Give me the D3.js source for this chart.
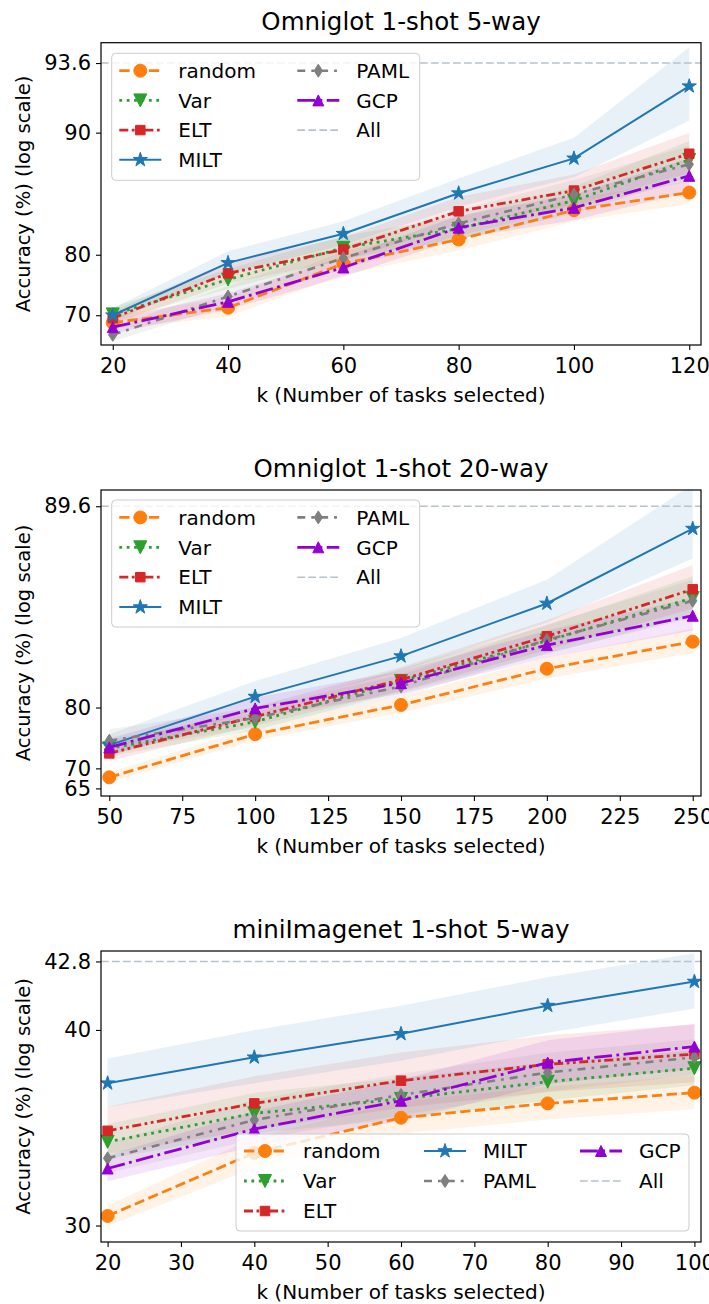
<!DOCTYPE html>
<html>
<head>
<meta charset="utf-8">
<script src="https://cdn.jsdelivr.net/npm/d3@7"></script>
<style>
  body { margin: 0; background: #fff; }
  svg { display: block; font-family: "DejaVu Sans", sans-serif; }
</style>
</head>
<body>
<svg id="fig" width="709" height="1304"></svg>
<script>
var methods = ["random", "Var", "ELT", "MILT", "PAML", "GCP"];

/* ===== DATA: Omniglot 1-shot 5-way ===== */
var o5K      = [20, 40, 60, 80, 100, 120];
var o5Random = [68.1, 71.7, 78.9, 81.7, 84.5, 85.95];
var o5Var    = [70.2, 76.7, 80.8, 82.8, 85.3, 88.3];
var o5ELT    = [69.3, 77.6, 80.6, 84.4, 86.1, 88.7];
var o5MILT   = [70.0, 79.0, 82.3, 85.9, 88.4, 92.5];
var o5PAML   = [64.3, 73.9, 79.6, 83.3, 85.8, 88.0];
var o5GCP    = [66.8, 72.9, 78.4, 82.9, 84.7, 87.2];
var o5RandomSd = [1.8, 2.0, 1.5, 1.2, 1.0, 0.9];
var o5VarSd    = [1.6, 1.5, 1.3, 1.1, 1.1, 1.2];
var o5ELTSd    = [1.6, 1.5, 1.3, 1.2, 1.2, 1.3];
var o5MILTSd   = [1.6, 1.4, 1.2, 1.1, 1.3, 1.8];
var o5PAMLSd   = [2.5, 1.8, 1.4, 1.2, 1.1, 1.2];
var o5GCPSd    = [2.0, 1.6, 1.3, 1.1, 1.1, 1.2];
var o5All = 93.6;
var o5YTicks = [70, 80, 90, 93.6];
var o5XTicks = [20, 40, 60, 80, 100, 120];

/* ===== DATA: Omniglot 1-shot 20-way ===== */
var o20K      = [50, 100, 150, 200, 250];
var o20Random = [67.9, 76.4, 80.3, 83.7, 85.5];
var o20Var    = [74.05, 78.2, 82.7, 85.55, 87.5];
var o20ELT    = [73.1, 78.9, 82.8, 85.8, 87.8];
var o20MILT   = [74.6, 81.2, 84.6, 87.3, 89.26];
var o20PAML   = [75.35, 78.7, 82.2, 85.6, 87.4];
var o20GCP    = [74.2, 79.9, 82.5, 85.3, 86.8];
var o20RandomSd = [1.2, 1.0, 0.9, 0.8, 0.7];
var o20VarSd    = [1.5, 1.2, 1.0, 0.8, 0.7];
var o20ELTSd    = [1.5, 1.2, 1.0, 0.8, 0.7];
var o20MILTSd   = [1.8, 1.5, 1.1, 0.8, 0.6];
var o20PAMLSd   = [1.8, 1.3, 1.0, 0.8, 0.7];
var o20GCPSd    = [1.5, 1.2, 1.0, 0.8, 0.7];
var o20All = 89.6;
var o20YTicks = [65, 70, 80, 89.6];
var o20XTicks = [50, 75, 100, 125, 150, 175, 200, 225, 250];

/* ===== DATA: miniImagenet 1-shot 5-way ===== */
var miK      = [20, 40, 60, 80, 100];
var miRandom = [30.57, 34.1, 35.91, 36.62, 37.14];
var miVar    = [34.68, 36.13, 36.84, 37.66, 38.29];
var miELT    = [35.25, 36.62, 37.71, 38.47, 38.93];
var miMILT   = [37.59, 38.79, 39.83, 41.03, 42.01];
var miPAML   = [33.81, 35.8, 37.03, 38.09, 38.79];
var miGCP    = [33.26, 35.34, 36.75, 38.55, 39.27];
var miRandomSd = [0.6, 0.8, 0.8, 0.8, 0.8];
var miVarSd    = [0.9, 1.0, 1.0, 0.9, 0.8];
var miELTSd    = [1.2, 1.3, 1.3, 1.3, 1.3];
var miMILTSd   = [1.15, 1.2, 1.2, 1.15, 1.1];
var miPAMLSd   = [0.8, 1.0, 1.0, 0.9, 0.8];
var miGCPSd    = [0.7, 0.9, 1.0, 1.0, 1.0];
var miAll = 42.8;
var miYTicks = [30, 40, 42.8];
var miXTicks = [20, 30, 40, 50, 60, 70, 80, 90, 100];

/* ===== STYLES ===== */
var styles = {
  random: {color: "#ff7f0e", dash: "10.3,4.5",               width: 2.8, marker: "circle",  ms: 13},
  Var:    {color: "#2ca02c", dash: "2.8,4.6",                width: 2.8, marker: "triDown", ms: 13},
  ELT:    {color: "#d62728", dash: "9,3.5,2.8,3.5,2.8,3.5",  width: 2.8, marker: "square",  ms: 9.5},
  MILT:   {color: "#1f77b4", dash: null,                     width: 2.0, marker: "star",    ms: 15},
  PAML:   {color: "#7f7f7f", dash: "8,6,2.8,6",              width: 2.6, marker: "diamond", ms: 13},
  GCP:    {color: "#9400d3", dash: "17.8,4.4,2.8,4.4",       width: 2.8, marker: "triUp",   ms: 11}
};
var allStyle = {color: "#b8c2cc", dash: "7.7,3.3", width: 1.6};

var markerTypes = {
  circle: {draw: function(c, s) { c.moveTo(s / 2, 0); c.arc(0, 0, s / 2, 0, 2 * Math.PI); }},
  triDown: {draw: function(c, s) { var h = s / 2; c.moveTo(0, h); c.lineTo(-h, -h); c.lineTo(h, -h); c.closePath(); }},
  triUp: {draw: function(c, s) { var h = s / 2; c.moveTo(0, -h); c.lineTo(-h, h); c.lineTo(h, h); c.closePath(); }},
  square: {draw: function(c, s) { c.rect(-s / 2, -s / 2, s, s); }},
  diamond: {draw: function(c, s) { var h = s / 2, w = s * 0.32; c.moveTo(0, -h); c.lineTo(w, 0); c.lineTo(0, h); c.lineTo(-w, 0); c.closePath(); }},
  star: {draw: function(c, s) {
    var R = s / 2, r = R * 0.382;
    for (var i = 0; i < 10; i++) {
      var a = -Math.PI / 2 + i * Math.PI / 5, rad = i % 2 ? r : R;
      if (i === 0) c.moveTo(rad * Math.cos(a), rad * Math.sin(a));
      else c.lineTo(rad * Math.cos(a), rad * Math.sin(a));
    }
    c.closePath();
  }}
};

var plotL = 101, plotR = 701;

/* ===== PANELS ===== */
var panels = [
  {
    id: 1, title: "Omniglot 1-shot 5-way", top: 42.7, bottom: 345,
    k: o5K, xlim: [17.96, 122.04], xTicks: o5XTicks,
    tf: function(v) { return Math.exp(v / 14.24); }, ylim: [60.1, 94.5], yTicks: o5YTicks,
    all: o5All,
    mean: {random: o5Random, Var: o5Var, ELT: o5ELT, MILT: o5MILT, PAML: o5PAML, GCP: o5GCP},
    std: {random: o5RandomSd, Var: o5VarSd, ELT: o5ELTSd, MILT: o5MILTSd, PAML: o5PAMLSd, GCP: o5GCPSd},
    legend: {x: 111.7, y: 53.3, w: 308, h: 127, firstRow: 17.4, rowStep: 29.7,
             colX: [7.6, 185.6], cols: [["random", "Var", "ELT", "MILT"], ["PAML", "GCP", "All"]]}
  },
  {
    id: 2, title: "Omniglot 1-shot 20-way", top: 490, bottom: 796,
    k: o20K, xlim: [47.16, 252.84], xTicks: o20XTicks,
    tf: function(v) { return -Math.log(90.85 - v); }, ylim: [62.8, 89.8], yTicks: o20YTicks,
    all: o20All,
    mean: {random: o20Random, Var: o20Var, ELT: o20ELT, MILT: o20MILT, PAML: o20PAML, GCP: o20GCP},
    std: {random: o20RandomSd, Var: o20VarSd, ELT: o20ELTSd, MILT: o20MILTSd, PAML: o20PAMLSd, GCP: o20GCPSd},
    legend: {x: 111.7, y: 500, w: 308, h: 127, firstRow: 17.4, rowStep: 29.9,
             colX: [7.6, 185.6], cols: [["random", "Var", "ELT", "MILT"], ["PAML", "GCP", "All"]]}
  },
  {
    id: 3, title: "miniImagenet 1-shot 5-way", top: 951, bottom: 1242,
    k: miK, xlim: [19.1, 100.9], xTicks: miXTicks,
    tf: function(v) { return -Math.log(66 - v); }, ylim: [29.0, 43.2], yTicks: miYTicks,
    all: miAll,
    mean: {random: miRandom, Var: miVar, ELT: miELT, MILT: miMILT, PAML: miPAML, GCP: miGCP},
    std: {random: miRandomSd, Var: miVarSd, ELT: miELTSd, MILT: miMILTSd, PAML: miPAMLSd, GCP: miGCPSd},
    legend: {x: 236, y: 1134, w: 453, h: 97, firstRow: 17, rowStep: 30,
             colX: [8, 188, 344], cols: [["random", "Var", "ELT"], ["MILT", "PAML"], ["GCP", "All"]]}
  }
];

var svg = d3.select("#fig");
panels.forEach(drawPanel);

function drawPanel(p) {
  var g = svg.append("g");

  var x = d3.scaleLinear().domain(p.xlim).range([plotL, plotR]);
  var yLin = d3.scaleLinear().domain(p.ylim.map(p.tf)).range([p.bottom, p.top]);
  var y = function(v) { return yLin(p.tf(v)); };

  var clipId = "clip" + p.id;
  g.append("clipPath").attr("id", clipId)
    .append("rect")
    .attr("x", plotL).attr("y", p.top)
    .attr("width", plotR - plotL).attr("height", p.bottom - p.top);

  var rows = methods.map(function(m) {
    return {name: m, pts: p.k.map(function(k, i) {
      return {k: k, v: p.mean[m][i], s: p.std[m][i]};
    })};
  });

  var layer = g.append("g").attr("clip-path", "url(#" + clipId + ")");

  // std bands
  var area = d3.area()
    .x(function(d) { return x(d.k); })
    .y0(function(d) { return y(d.v - d.s); })
    .y1(function(d) { return y(d.v + d.s); });
  layer.selectAll(".band").data(rows).enter()
    .append("path")
    .attr("d", function(d) { return area(d.pts); })
    .attr("fill", function(d) { return styles[d.name].color; })
    .attr("fill-opacity", 0.1)
    .attr("stroke", "none");

  // "All" reference line
  layer.append("line")
    .attr("x1", plotL).attr("x2", plotR)
    .attr("y1", y(p.all)).attr("y2", y(p.all))
    .attr("stroke", allStyle.color)
    .attr("stroke-width", allStyle.width)
    .attr("stroke-dasharray", allStyle.dash);

  // lines + markers
  var line = d3.line()
    .x(function(d) { return x(d.k); })
    .y(function(d) { return y(d.v); });
  rows.forEach(function(r) {
    var st = styles[r.name];
    layer.append("path")
      .attr("d", line(r.pts))
      .attr("fill", "none")
      .attr("stroke", st.color)
      .attr("stroke-width", st.width)
      .attr("stroke-dasharray", st.dash);
    layer.selectAll(null).data(r.pts).enter()
      .append("path")
      .attr("transform", function(d) { return "translate(" + x(d.k) + "," + y(d.v) + ")"; })
      .attr("d", d3.symbol().type(markerTypes[st.marker]).size(st.ms))
      .attr("fill", st.color)
      .attr("stroke", st.color)
      .attr("stroke-width", 1);
  });

  /* --- axes --- */
  var xAxis = d3.axisBottom(x)
    .tickValues(p.xTicks)
    .tickSize(5).tickSizeOuter(0)
    .tickPadding(8)
    .tickFormat(d3.format("d"));
  var gx = g.append("g").attr("transform", "translate(0," + p.bottom + ")").call(xAxis);

  var yAxis = d3.axisLeft(yLin)
    .tickValues(p.yTicks.map(p.tf))
    .tickSize(5).tickSizeOuter(0)
    .tickPadding(5)
    .tickFormat(function(d, i) { return String(p.yTicks[i]); });
  var gy = g.append("g").attr("transform", "translate(" + plotL + ",0)").call(yAxis);

  [gx, gy].forEach(function(ax) {
    ax.select(".domain").remove();
    ax.selectAll(".tick line").attr("stroke", "#000").attr("stroke-width", 1.1);
    ax.selectAll(".tick text")
      .attr("fill", "#000")
      .style("font-family", "'DejaVu Sans', sans-serif")
      .style("font-size", "21px");
  });

  // spines
  g.append("rect")
    .attr("x", plotL).attr("y", p.top)
    .attr("width", plotR - plotL).attr("height", p.bottom - p.top)
    .attr("fill", "none")
    .attr("stroke", "#000")
    .attr("stroke-width", 1.2);

  /* --- labels --- */
  g.append("text")
    .attr("x", (plotL + plotR) / 2)
    .attr("y", p.top - 13)
    .attr("text-anchor", "middle")
    .style("font-size", "24.5px")
    .text(p.title);

  g.append("text")
    .attr("x", (plotL + plotR) / 2)
    .attr("y", p.bottom + 57)
    .attr("text-anchor", "middle")
    .style("font-size", "20px")
    .text("k (Number of tasks selected)");

  g.append("text")
    .attr("transform", "translate(30," + ((p.top + p.bottom) / 2) + ") rotate(-90)")
    .attr("text-anchor", "middle")
    .style("font-size", "19.5px")
    .text("Accuracy (%) (log scale)");

  drawLegend(g, p.legend);
}

function drawLegend(g, L) {
  var lg = g.append("g").attr("transform", "translate(" + L.x + "," + L.y + ")");
  lg.append("rect")
    .attr("width", L.w).attr("height", L.h)
    .attr("rx", 4)
    .attr("fill", "#fff").attr("fill-opacity", 0.8)
    .attr("stroke", "#cccccc").attr("stroke-width", 1);

  L.cols.forEach(function(col, ci) {
    col.forEach(function(name, ri) {
      var item = lg.append("g")
        .attr("transform", "translate(" + L.colX[ci] + "," + (L.firstRow + ri * L.rowStep) + ")");
      var st = name === "All" ? allStyle : styles[name];
      item.append("line")
        .attr("x1", 0).attr("x2", 42).attr("y1", 0).attr("y2", 0)
        .attr("stroke", st.color)
        .attr("stroke-width", st.width)
        .attr("stroke-dasharray", st.dash);
      if (name !== "All") {
        item.append("path")
          .attr("transform", "translate(21,0)")
          .attr("d", d3.symbol().type(markerTypes[st.marker]).size(st.ms))
          .attr("fill", st.color)
          .attr("stroke", st.color)
          .attr("stroke-width", 1);
      }
      item.append("text")
        .attr("x", 59)
        .attr("dy", "0.36em")
        .style("font-size", "20px")
        .text(name);
    });
  });
}
</script>
</body>
</html>
